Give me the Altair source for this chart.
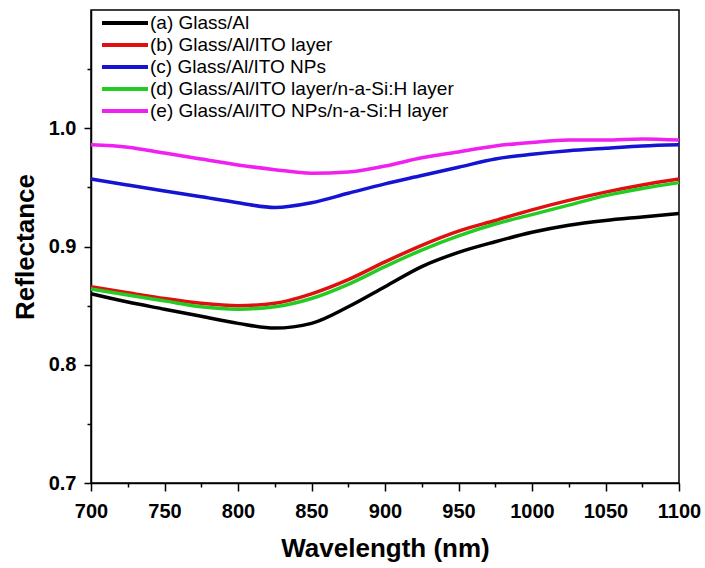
import altair as alt
import pandas as pd

wavelength = [700, 725, 750, 775, 800, 825, 850, 875, 900, 925, 950, 975, 1000, 1025, 1050, 1075, 1100]

series_names = [
    "(a) Glass/Al",
    "(b) Glass/Al/ITO layer",
    "(c) Glass/Al/ITO NPs",
    "(d) Glass/Al/ITO layer/n-a-Si:H layer",
    "(e) Glass/Al/ITO NPs/n-a-Si:H layer",
]
series_colors = ["#000000", "#e01010", "#1414d2", "#22cc22", "#f020f0"]

refl_a = [0.860, 0.853, 0.847, 0.841, 0.835, 0.831, 0.835, 0.849, 0.866, 0.883, 0.895, 0.904, 0.912, 0.918, 0.922, 0.925, 0.928]
refl_b = [0.866, 0.861, 0.856, 0.852, 0.850, 0.852, 0.860, 0.872, 0.887, 0.901, 0.913, 0.922, 0.931, 0.939, 0.946, 0.952, 0.957]
refl_c = [0.957, 0.952, 0.947, 0.942, 0.937, 0.933, 0.937, 0.945, 0.953, 0.960, 0.967, 0.974, 0.978, 0.981, 0.983, 0.985, 0.986]
refl_d = [0.864, 0.859, 0.854, 0.849, 0.847, 0.849, 0.856, 0.868, 0.883, 0.897, 0.909, 0.919, 0.927, 0.935, 0.943, 0.949, 0.954]
refl_e = [0.986, 0.984, 0.979, 0.974, 0.969, 0.965, 0.962, 0.963, 0.968, 0.975, 0.980, 0.985, 0.988, 0.990, 0.990, 0.991, 0.990]

x_ticks = [700, 725, 750, 775, 800, 825, 850, 875, 900, 925, 950, 975, 1000, 1025, 1050, 1075, 1100]
y_ticks = [0.7, 0.75, 0.8, 0.85, 0.9, 0.95, 1.0, 1.05]

all_series = [refl_a, refl_b, refl_c, refl_d, refl_e]
rows = []
for i, (name, vals) in enumerate(zip(series_names, all_series)):
    for w, r in zip(wavelength, vals):
        rows.append({"Wavelength": w, "Reflectance": r, "Sample": name, "order": i})
df = pd.DataFrame(rows)

FONT = "Liberation Sans"

chart = alt.Chart(df).mark_line(strokeWidth=3.5, interpolate="monotone").encode(
    x=alt.X(
        "Wavelength:Q",
        scale=alt.Scale(domain=[700, 1100], nice=False, zero=False),
        axis=alt.Axis(
            title="Wavelength (nm)",
            values=x_ticks,
            format="d",
            labelExpr="datum.value % 50 === 0 ? format(datum.value, 'd') : ''",
            tickSize={"condition": {"test": "datum.value % 50 === 0", "value": 8}, "value": 4},
            labelPadding=10,
            labelFlush=False,
            labelOverlap=False,
            titlePadding=14,
            grid=False,
        ),
    ),
    y=alt.Y(
        "Reflectance:Q",
        scale=alt.Scale(domain=[0.7, 1.1], nice=False, zero=False),
        axis=alt.Axis(
            title="Reflectance",
            values=y_ticks,
            format=".1f",
            labelExpr="round(datum.value * 100) % 10 === 0 ? format(datum.value, '.1f') : ''",
            tickSize={"condition": {"test": "round(datum.value * 100) % 10 === 0", "value": 7}, "value": 4},
            labelPadding=8,
            labelFlush=False,
            labelOverlap=False,
            titlePadding=10,
            grid=False,
        ),
    ),
    color=alt.Color(
        "Sample:N",
        scale=alt.Scale(domain=series_names, range=series_colors),
        legend=alt.Legend(
            title=None,
            orient="none",
            legendX=9,
            legendY=1,
            padding=0,
            rowPadding=0,
            symbolType="M-1,0h4.6",
            symbolSize=400,
            symbolStrokeWidth=4,
            labelOffset=26,
            labelFontSize=19,
            labelFont=FONT,
            labelColor="#000000",
            labelLimit=400,
        ),
    ),
    order=alt.Order("order:Q"),
    detail="Sample:N",
).properties(
    width=588,
    height=473,
    background="#ffffff",
    autosize=alt.AutoSizeParams(type="none"),
    padding={"left": 91, "top": 10, "right": 26, "bottom": 85},
).configure_view(
    stroke="#000000", strokeWidth=1.5
).configure_axis(
    domainColor="#000000",
    domainWidth=1.5,
    tickColor="#000000",
    tickWidth=1.5,
    labelFont=FONT,
    labelFontSize=20,
    labelFontWeight="bold",
    labelColor="#000000",
    titleFont=FONT,
    titleFontSize=26,
    titleFontWeight="bold",
    titleColor="#000000",
)

chart.save("out.html", embed_options={"renderer": "svg", "actions": False})
